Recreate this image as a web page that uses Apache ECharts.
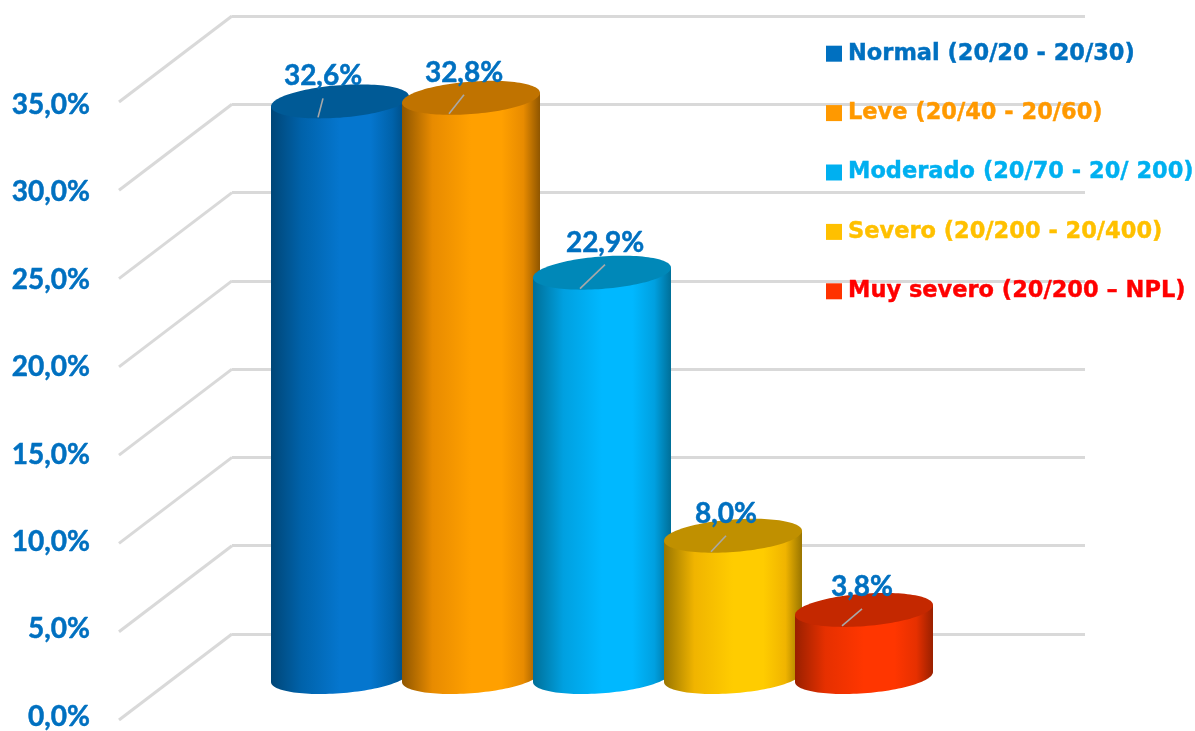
<!DOCTYPE html>
<html>
<head>
<meta charset="utf-8">
<title>Agudeza visual</title>
<style>
  html, body { margin: 0; padding: 0; background: #fff; }
  #chart { width: 1195px; height: 731px; }
</style>
<script src="https://cdn.jsdelivr.net/npm/echarts@6/dist/echarts.min.js"></script>
</head>
<body>
<div id="chart"></div>
<script>
// Distribution of visual acuity categories
const categories = [
  'Normal (20/20 - 20/30)',
  'Leve (20/40 - 20/60)',
  'Moderado (20/70 - 20/ 200)',
  'Severo (20/200 - 20/400)',
  'Muy severo (20/200 – NPL)'
];
const values = [32.6, 32.8, 22.9, 8.0, 3.8];
const axisTicks = [0, 5, 10, 15, 20, 25, 30, 35];

// Colours per category
const legendColors = ['#0070C0', '#FF9900', '#00B0F0', '#FFC000', '#FF3300'];
const legendTextColors = ['#0070C0', '#FF9900', '#00B0F0', '#FFC000', '#FF0000'];
const bodyHighlight = ['#0576CE', '#FFA000', '#00B8FF', '#FFCC00', '#FF3600'];
const bodyShade = ['#0062AA', '#E88B00', '#00A0E0', '#F0B400', '#E63000'];
const bodyEdge = ['#004677', '#8F5600', '#006F98', '#997500', '#992000'];
const capColors = ['#005A96', '#C07300', '#0088B8', '#C09000', '#C42800'];

// Placement of each value label relative to its cylinder's top centre
const labelShift = [-17, -7, 3, -7, -2];
const labelLift = [25, 25, 30, 22, 23];

const TEXT_BLUE = '#0070C0';
const WALL_COLOR = '#D9D9D9';
const DEPTH = { x: 113, y: 86 };
const formatPercent = v => v.toFixed(1).replace('.', ',') + '%';

// Tilted elliptical section of a cylinder, relative to its centre
const CAP = { tilt: 5 / 69, minor: 16.25 / 69 };
function sectionPoint(cx, cy, halfWidth, t) {
  return [
    cx + halfWidth * Math.cos(t),
    cy + halfWidth * (-CAP.tilt * Math.cos(t) + CAP.minor * Math.sin(t))
  ];
}

function cylinderRenderer(i) {
  return function (params, api) {
    const value = api.value(1);
    const top = api.coord([api.value(0), value]);
    const base = api.coord([api.value(0), 0]);
    const halfWidth = api.size([1, 0])[0] * 138 / 131 / 2;

    const steps = 60;
    const body = [sectionPoint(top[0], top[1], halfWidth, Math.PI), sectionPoint(top[0], top[1], halfWidth, 0)];
    for (let s = 0; s <= steps; s++) {
      body.push(sectionPoint(base[0], base[1], halfWidth, Math.PI * s / steps));
    }
    const cap = [];
    for (let s = 0; s < steps * 2; s++) {
      cap.push(sectionPoint(top[0], top[1], halfWidth, Math.PI * s / steps));
    }

    const shift = labelShift[i];
    const lift = labelLift[i];
    return {
      type: 'group',
      children: [
        {
          type: 'polygon',
          shape: { points: body },
          style: {
            fill: {
              type: 'linear', x: 0, y: 0, x2: 1, y2: 0,
              colorStops: [
                { offset: 0, color: bodyEdge[i] },
                { offset: 0.22, color: bodyShade[i] },
                { offset: 0.5, color: bodyHighlight[i] },
                { offset: 0.72, color: bodyHighlight[i] },
                { offset: 0.88, color: bodyShade[i] },
                { offset: 1, color: bodyEdge[i] }
              ]
            }
          }
        },
        { type: 'polygon', shape: { points: cap }, style: { fill: capColors[i] } },
        {
          type: 'line',
          z2: 20,
          shape: { x1: top[0] + shift, y1: top[1] - lift + 22, x2: top[0] - 22, y2: top[1] + 16 },
          style: { stroke: '#A8A8A8', lineWidth: 1.6 }
        },
        {
          type: 'text',
          z2: 30,
          style: {
            text: formatPercent(value),
            x: top[0] + shift,
            y: top[1] - lift,
            align: 'center',
            verticalAlign: 'middle',
            fontFamily: 'Lato, sans-serif',
            fontWeight: 'bold',
            fontSize: 28,
            fill: TEXT_BLUE,
            stroke: TEXT_BLUE,
            lineWidth: 0.5
          }
        }
      ]
    };
  };
}

const bandAxis = {
  type: 'category',
  data: categories,
  show: false
};
const hiddenValueAxis = { type: 'value', min: 0, max: 35, interval: 5, show: false };

const option = {
  animation: false,
  backgroundColor: '#fff',
  legend: {
    orient: 'vertical',
    left: 826,
    top: 42,
    padding: 0,
    itemWidth: 16,
    itemHeight: 16,
    itemGap: 36,
    icon: 'rect',
    selectedMode: false,
    textStyle: { fontFamily: 'DejaVu Sans', fontWeight: 'bold', fontSize: 22.5, padding: [0, 0, 0, 1] },
    data: categories.map((name, i) => ({
      name,
      textStyle: {
        color: legendTextColors[i],
        textBorderColor: legendTextColors[i],
        textBorderWidth: 0.4
      }
    }))
  },
  grid: [
    // Front edge of the floor: carries the tick labels
    { left: 119, width: 853, top: 105, height: 615 },
    // Back wall: carries the gridlines
    { left: 232, width: 853, top: 16, height: 618 },
    // Middle plane, where the cylinders stand
    { left: 274.5, width: 655, top: 59, height: 618 }
  ],
  xAxis: [
    { type: 'value', min: 0, max: 1, show: false, gridIndex: 0 },
    { type: 'value', min: 0, max: 1, show: false, gridIndex: 1 },
    Object.assign({ gridIndex: 2 }, bandAxis)
  ],
  yAxis: [
    {
      type: 'value', gridIndex: 0, min: 0, max: 35, interval: 5,
      axisLine: { show: false },
      axisTick: { show: false },
      splitLine: { show: false },
      axisLabel: {
        margin: 29,
        formatter: formatPercent,
        fontFamily: 'Lato, sans-serif',
        fontWeight: 'bold',
        fontSize: 28,
        color: TEXT_BLUE,
        textBorderColor: TEXT_BLUE,
        textBorderWidth: 0.5
      }
    },
    {
      type: 'value', gridIndex: 1, min: 0, max: 35, interval: 5,
      axisLine: { show: false },
      axisTick: { show: false },
      axisLabel: { show: false },
      splitLine: { show: true, lineStyle: { color: WALL_COLOR, width: 3 } }
    },
    Object.assign({ gridIndex: 2 }, hiddenValueAxis)
  ],
  series: [
    {
      // Side wall: one line per tick, receding from the back wall to the front edge
      type: 'custom',
      name: 'pared',
      xAxisIndex: 1,
      yAxisIndex: 1,
      silent: true,
      clip: false,
      data: axisTicks.map(t => [0, t]),
      encode: { x: 0, y: 1 },
      renderItem(params, api) {
        const p = api.coord([api.value(0), api.value(1)]);
        return {
          type: 'line',
          shape: { x1: p[0], y1: p[1], x2: p[0] - DEPTH.x, y2: p[1] + DEPTH.y },
          style: { stroke: WALL_COLOR, lineWidth: 3 }
        };
      }
    }
  ].concat(categories.map((name, i) => ({
    type: 'custom',
    name,
    xAxisIndex: 2,
    yAxisIndex: 2,
    clip: false,
    silent: true,
    z: 3 + i,
    itemStyle: { color: legendColors[i] },
    data: [[i, values[i]]],
    encode: { x: 0, y: 1 },
    renderItem: cylinderRenderer(i)
  })))
};

echarts.init(document.getElementById('chart'), null, { renderer: 'canvas' }).setOption(option);
</script>
</body>
</html>
